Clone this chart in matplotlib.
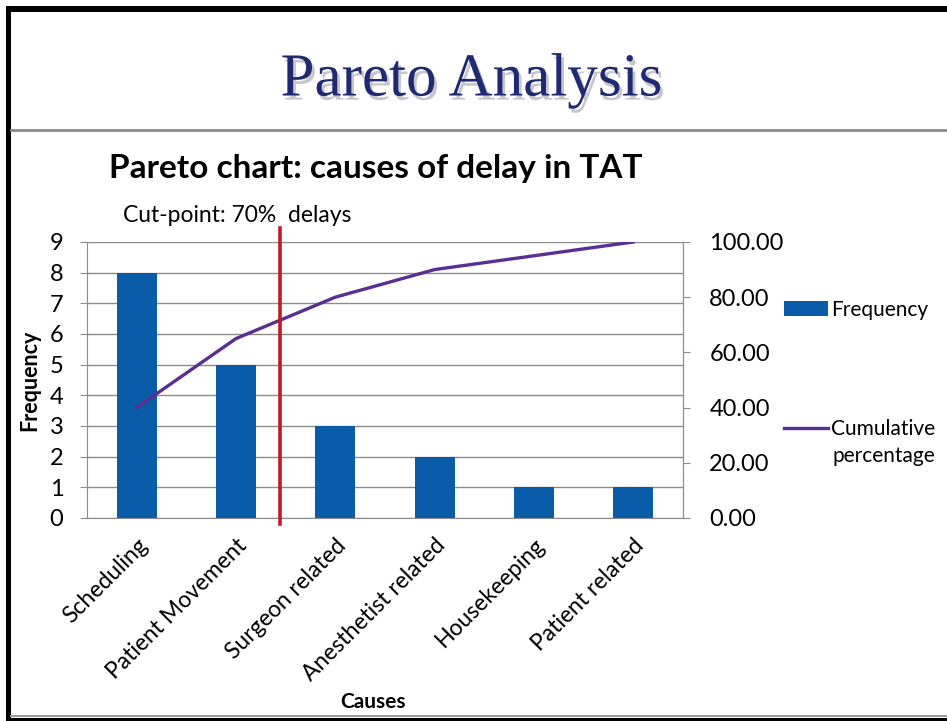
import matplotlib.pyplot as plt
import matplotlib.patheffects as pe
from matplotlib.patches import Rectangle
from matplotlib.lines import Line2D

causes = ['Scheduling', 'Patient Movement', 'Surgeon related',
          'Anesthetist related', 'Housekeeping', 'Patient related']
frequency = [8, 5, 3, 2, 1, 1]
cumulative_pct = [40.0, 65.0, 80.0, 90.0, 95.0, 100.0]
cut_point = 1.44  # between Patient Movement and Surgeon related

bar_color = '#0A5BA8'
line_color = '#5B2E93'
grid_color = '#8C8C8C'

plt.rcParams['font.family'] = ['Lato', 'DejaVu Sans']

fig = plt.figure(figsize=(9.47, 7.21), dpi=100)

# slide frame
fig.add_artist(Rectangle((0.0063, 0), 0.0055, 0.9917, transform=fig.transFigure,
                         color='black', lw=0))
fig.add_artist(Rectangle((0.0063, 0.9834), 0.9937, 0.0083, transform=fig.transFigure,
                         color='black', lw=0))
fig.add_artist(Rectangle((0.0063, 0), 0.9937, 0.0045, transform=fig.transFigure,
                         color='black', lw=0))
fig.add_artist(Line2D([0.012, 1], [0.0065, 0.0065], transform=fig.transFigure,
                      color='#9a9a9a', lw=1.5))
fig.add_artist(Line2D([0.012, 1], [0.8197, 0.8197], transform=fig.transFigure,
                      color='#8a8a8a', lw=2))

# slide title with a soft shadow
fig.text(0.498, 0.888, 'Pareto Analysis', ha='center', va='center',
         family='Liberation Serif', fontsize=44, color='#1F2A70',
         path_effects=[pe.SimplePatchShadow(offset=(2, -3), shadow_rgbFace='#b8b8c4',
                                            alpha=0.8), pe.Normal()])

ax = fig.add_axes([0.0919, 0.2816, 0.6293, 0.3828])
x = range(len(causes))
ax.bar(x, frequency, width=0.4, color=bar_color, zorder=2, label='Frequency')
ax.set_xlim(-0.5, len(causes) - 0.5)
ax.set_ylim(0, 9)
ax.set_yticks(range(10))
ax.yaxis.grid(True, color=grid_color, lw=1, zorder=0)
ax.set_xticks(list(x))
ax.set_xticklabels(causes, rotation=45, ha='right', rotation_mode='anchor',
                   fontsize=16.5)
ax.tick_params(axis='x', length=0, pad=12)
ax.tick_params(axis='y', labelsize=17, length=5, color=grid_color, pad=12)
ax.spines['top'].set_visible(False)
for s in ['left', 'right', 'bottom']:
    ax.spines[s].set_color(grid_color)
ax.set_ylabel('Frequency', fontsize=15.5, fontweight='bold', labelpad=7)
ax.set_xlabel('Causes', fontsize=15, fontweight='bold')
ax.xaxis.set_label_coords(0.48, -0.63)

ax2 = ax.twinx()
ax2.plot(x, cumulative_pct, color=line_color, lw=2.4, zorder=3)
ax2.set_ylim(0, 100)
ax2.set_yticks(range(0, 101, 20))
ax2.set_yticklabels(['%.2f' % v for v in range(0, 101, 20)])
ax2.tick_params(axis='y', labelsize=17, length=5, color=grid_color, pad=14)
for s in ['top', 'left', 'bottom']:
    ax2.spines[s].set_visible(False)
ax2.spines['right'].set_color(grid_color)

ax2.axvline(cut_point, ymin=-0.022, ymax=1.05, color='#C01B22', lw=2.6,
            clip_on=False, zorder=4)

ax.set_title('Pareto chart: causes of delay in TAT', fontsize=24,
             fontweight='bold', x=0.485, y=1.2)
ax.text(0.06, 1.095, 'Cut-point: 70%  delays', transform=ax.transAxes,
        fontsize=16.5, ha='left', va='center')

handles = [ax.patches[0], ax2.lines[0]]
fig.legend(handles, ['Frequency', 'Cumulative'],
           loc='upper left', bbox_to_anchor=(0.8106, 0.607), frameon=False,
           fontsize=15, handlelength=2.1, handletextpad=0.15,
           labelspacing=4.75, borderpad=0.3)
fig.text(0.8796, 0.3675, 'percentage', fontsize=15, ha='left', va='center')

fig.savefig('out.png', dpi=100)
